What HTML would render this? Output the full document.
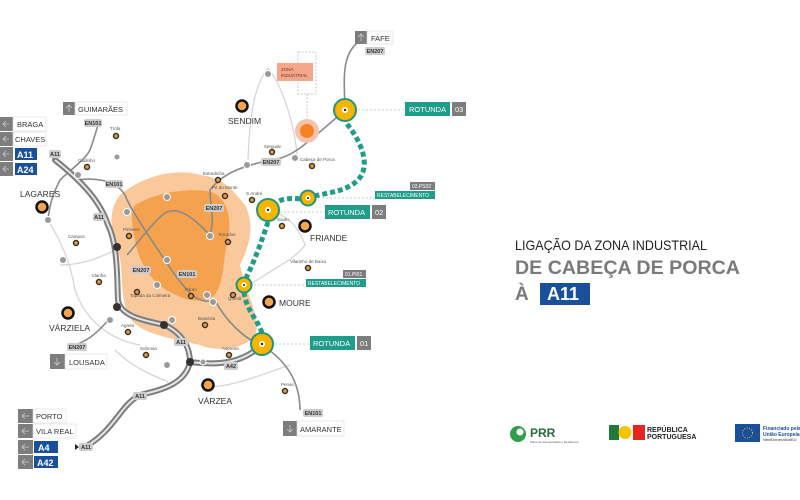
<!DOCTYPE html>
<html><head><meta charset="utf-8"><style>
html,body{margin:0;padding:0;background:#fff;}
svg{display:block}
text{font-family:"Liberation Sans",sans-serif}
</style></head><body>
<svg width="800" height="500" viewBox="0 0 800 500" xmlns="http://www.w3.org/2000/svg">
<rect width="800" height="500" fill="#fff"/>
<!-- blobs -->
<path d="M120,195 C150,170 185,170 200,175 C225,178 232,190 245,205 C255,225 250,245 240,265 C245,290 262,320 255,335 C245,350 215,352 200,345 C180,340 140,335 130,318 C118,295 125,275 118,250 C110,230 108,210 120,195Z" fill="#f9c89b"/>
<path d="M135,205 C160,190 195,188 212,192 C228,200 232,218 228,240 C222,262 225,280 215,295 C200,305 185,300 170,292 C150,282 138,260 135,240 C132,225 130,212 135,205Z" fill="#f5a24f"/>
<!-- light roads -->
<g fill="none" stroke="#d6d6d6" stroke-width="1.3">
<path d="M48,220 C60,240 70,260 75,290 C85,320 110,340 140,345"/>
<path d="M60,265 C85,265 105,255 115,250"/>
<path d="M268,68 C255,85 250,110 248,160"/>
<path d="M268,68 C285,90 295,130 297,155"/>
<path d="M268,210 C290,215 300,230 305,245 C295,260 270,270 250,285"/>
<path d="M115,350 C135,370 160,378 168,382"/>
<path d="M200,385 C220,392 260,375 290,365"/>
</g>
<!-- grey roads -->
<g fill="none" stroke="#8a8a8a" stroke-width="1.6">
<path d="M98,125 C95,135 92,145 90,150 C85,160 70,170 60,180 C55,190 50,200 48,220"/>
<path d="M78,180 C90,178 115,178 125,195 C130,210 165,260 175,275 C190,295 200,305 215,300 C225,320 245,340 262,345"/>
<path d="M127,255 C140,240 155,220 165,213 C180,205 195,220 210,235 C215,220 210,205 210,190 C225,170 250,165 270,160 C290,158 300,150 345,110"/>
<path d="M345,110 C345,90 340,60 355,45 C360,40 368,40 372,38"/>
<path d="M262,345 C285,360 300,380 300,410"/>
<path d="M75,345 C90,340 100,330 110,318"/>
</g>
<!-- motorways -->
<g fill="none" stroke="#7d7d7d" stroke-width="6" stroke-linecap="round">
<path d="M55,160 C80,180 100,200 108,225 C118,245 117,280 118,300 C120,315 140,320 165,325 C185,335 190,350 190,362 C185,385 160,390 140,395 C120,405 115,430 85,447"/>
<path d="M190,362 C215,365 240,365 262,345"/>
</g>
<g fill="none" stroke="#e5e5e5" stroke-width="2">
<path d="M55,160 C80,180 100,200 108,225 C118,245 117,280 118,300 C120,315 140,320 165,325 C185,335 190,350 190,362 C185,385 160,390 140,395 C120,405 115,430 85,447"/>
<path d="M190,362 C215,365 240,365 262,345"/>
</g>
<!-- nodes -->
<g fill="#9a9a9a" stroke="#fff" stroke-width="1">
<circle cx="78" cy="175" r="3.5"/><circle cx="48" cy="220" r="3.5"/><circle cx="63" cy="260" r="3.5"/><circle cx="127" cy="212" r="3.5"/><circle cx="167" cy="197" r="3.5"/><circle cx="210" cy="236" r="3.5"/><circle cx="167" cy="260" r="3.5"/><circle cx="157" cy="285" r="3.5"/><circle cx="207" cy="295" r="3.5"/><circle cx="213" cy="302" r="3.5"/><circle cx="172" cy="320" r="3.5"/><circle cx="110" cy="320" r="3.5"/><circle cx="167" cy="365" r="3.5"/><circle cx="268" cy="74" r="3.5"/><circle cx="247" cy="165" r="3.5"/><circle cx="295" cy="158" r="3.5"/><circle cx="117" cy="157" r="3"/><circle cx="203" cy="362" r="3"/>
</g>
<g fill="#333"><circle cx="117" cy="247" r="4"/><circle cx="117" cy="307" r="4"/><circle cx="164" cy="325" r="4"/><circle cx="190" cy="362" r="4"/></g>
<!-- small villages -->
<g fill="#f39b2e" stroke="#333" stroke-width="1.5">
<circle cx="116" cy="136" r="2.5"/><circle cx="87" cy="167" r="2.5"/><circle cx="218" cy="180" r="2.5"/><circle cx="272" cy="152" r="2.5"/><circle cx="312" cy="166" r="2.5"/><circle cx="225" cy="196" r="2.5"/><circle cx="252" cy="200" r="2.5"/><circle cx="129" cy="236" r="2.5"/><circle cx="76" cy="243" r="2.5"/><circle cx="228" cy="242" r="2.5"/><circle cx="282" cy="226" r="2.5"/><circle cx="99" cy="282" r="2.5"/><circle cx="137" cy="292" r="2.5"/><circle cx="191" cy="296" r="2.5"/><circle cx="233" cy="295" r="2.5"/><circle cx="308" cy="268" r="2.5"/><circle cx="205" cy="325" r="2.5"/><circle cx="128" cy="332" r="2.5"/><circle cx="146" cy="355" r="2.5"/><circle cx="229" cy="355" r="2.5"/><circle cx="285" cy="391" r="2.5"/>
</g>
<g font-size="4.5" fill="#555">
<text x="110" y="130">Trofa</text><text x="78" y="162">Godinho</text><text x="203" y="175">Estradinha</text><text x="264" y="148">Sergude</text><text x="300" y="161">Cabeça de Porca</text><text x="212" y="189">Pé do Monte</text><text x="246" y="195">S.André</text><text x="123" y="231">Pinheiro</text><text x="68" y="238">Campos</text><text x="218" y="236">Torrados</text><text x="277" y="221">Souto</text><text x="290" y="263">Vilarinho de Baixo</text><text x="92" y="277">Idanha</text><text x="130" y="297">Tapada da Colmeira</text><text x="185" y="291">Forno</text><text x="228" y="300">Quintã</text><text x="198" y="320">Boavista</text><text x="121" y="327">Agrela</text><text x="140" y="350">Sobrosa</text><text x="222" y="350">Aspreira</text><text x="281" y="386">Penas</text>
</g>
<!-- road labels -->
<g font-size="5.5" font-weight="bold" fill="#333" text-anchor="middle">
<rect x="84" y="119" width="18" height="8" rx="2" fill="#ccc"/><text x="93" y="125">EN101</text>
<rect x="105" y="180" width="18" height="8" rx="2" fill="#ccc"/><text x="114" y="186">EN101</text>
<rect x="49" y="150" width="12" height="8" rx="2" fill="#ccc"/><text x="55" y="156">A11</text>
<rect x="93" y="213" width="12" height="8" rx="2" fill="#ccc"/><text x="99" y="219">A11</text>
<rect x="204" y="204" width="20" height="8" rx="2" fill="#ccc"/><text x="214" y="210">EN207</text>
<rect x="261" y="158" width="20" height="8" rx="2" fill="#ccc"/><text x="271" y="164">EN207</text>
<rect x="131" y="266" width="20" height="8" rx="2" fill="#ccc"/><text x="141" y="272">EN207</text>
<rect x="177" y="270" width="20" height="8" rx="2" fill="#ccc"/><text x="187" y="276">EN101</text>
<rect x="174" y="338" width="14" height="8" rx="2" fill="#ccc"/><text x="181" y="344">A11</text>
<rect x="224" y="362" width="14" height="8" rx="2" fill="#ccc"/><text x="231" y="368">A42</text>
<rect x="67" y="343" width="20" height="8" rx="2" fill="#ccc"/><text x="77" y="349">EN207</text>
<rect x="133" y="392" width="14" height="8" rx="2" fill="#ccc"/><text x="140" y="398">A11</text>
<rect x="79" y="443" width="14" height="8" rx="2" fill="#ccc"/><text x="86" y="449">A11</text>
<rect x="303" y="409" width="20" height="8" rx="2" fill="#ccc"/><text x="313" y="415">EN101</text>
<rect x="365" y="47" width="20" height="8" rx="2" fill="#ccc"/><text x="375" y="53">EN207</text>
</g>
<!-- zona industrial -->
<rect x="298" y="52" width="18" height="42" fill="none" stroke="#bbb" stroke-width="0.8" stroke-dasharray="2,1.5"/>
<line x1="307" y1="94" x2="307" y2="120" stroke="#bbb" stroke-width="0.8" stroke-dasharray="2,1.5"/>
<rect x="277" y="63" width="36" height="18" fill="#f4a58a"/>
<text x="281" y="71" font-size="4.5" fill="#6b3a2a">ZONA</text><text x="281" y="77" font-size="4.5" fill="#6b3a2a">INDUSTRIAL</text>
<circle cx="307" cy="131" r="12" fill="#f7c3b0"/><circle cx="307" cy="131" r="7" fill="#f58220"/>
<!-- green dashed -->
<g fill="none" stroke="#1f9c8a" stroke-width="5" stroke-dasharray="5,3">
<path d="M347,124 C360,140 372,165 358,180 C345,192 330,192 315,196"/>
<path d="M300,199 C292,198 282,198 276,203"/>
<path d="M268,222 C262,240 255,260 246,278"/>
<path d="M244,292 C246,310 258,320 262,333"/>
</g>
<!-- dotted connectors -->
<g stroke="#bbb" stroke-width="0.8" stroke-dasharray="2,2">
<line x1="358" y1="110" x2="405" y2="110"/><line x1="318" y1="198" x2="375" y2="198"/><line x1="280" y1="212" x2="325" y2="212"/><line x1="254" y1="285" x2="306" y2="285"/><line x1="275" y1="344" x2="310" y2="344"/>
</g>
<!-- roundabouts -->
<g stroke="#23967a" stroke-width="2" fill="#f7b500">
<circle cx="345" cy="110" r="11"/><circle cx="308" cy="198" r="7.5"/><circle cx="268" cy="210" r="11"/><circle cx="244" cy="285" r="7.5"/><circle cx="262" cy="344" r="11"/>
</g>
<g fill="#fff"><circle cx="345" cy="110" r="3"/><circle cx="308" cy="198" r="2.5"/><circle cx="268" cy="210" r="3"/><circle cx="244" cy="285" r="2.5"/><circle cx="262" cy="344" r="3"/></g>
<g fill="#222"><circle cx="345" cy="110" r="1.2"/><circle cx="308" cy="198" r="1"/><circle cx="268" cy="210" r="1.2"/><circle cx="244" cy="285" r="1"/><circle cx="262" cy="344" r="1.2"/></g>
<!-- rotunda labels -->
<g font-size="7.5" fill="#fff">
<rect x="405" y="102" width="45" height="14" fill="#1f9c8a"/><text x="409" y="112">ROTUNDA</text>
<rect x="452" y="102" width="14" height="14" fill="#7d7d7d"/><text x="455" y="112">03</text>
<rect x="325" y="205" width="45" height="14" fill="#1f9c8a"/><text x="328" y="215">ROTUNDA</text>
<rect x="372" y="205" width="14" height="14" fill="#7d7d7d"/><text x="375" y="215">02</text>
<rect x="310" y="336" width="45" height="14" fill="#1f9c8a"/><text x="313" y="346">ROTUNDA</text>
<rect x="357" y="336" width="14" height="14" fill="#7d7d7d"/><text x="360" y="346">01</text>
</g>
<g font-size="5" fill="#fff">
<rect x="375" y="191" width="60" height="8" fill="#1f9c8a"/><text x="377" y="197">RESTABELECIMENTO</text>
<rect x="410" y="182" width="25" height="8" fill="#7d7d7d"/><text x="412" y="188">02.PS02</text>
<rect x="306" y="279" width="60" height="8" fill="#1f9c8a"/><text x="308" y="285">RESTABELECIMENTO</text>
<rect x="343" y="270" width="23" height="8" fill="#7d7d7d"/><text x="345" y="276">01.PI01</text>
</g>
<!-- towns -->
<g fill="#f7a54a" stroke="#111" stroke-width="2.5">
<circle cx="242" cy="106" r="5.5"/><circle cx="42" cy="207" r="5.5"/><circle cx="305" cy="226" r="5.5"/><circle cx="269" cy="302" r="5.5"/><circle cx="68" cy="313" r="5.5"/><circle cx="208" cy="385" r="5.5"/>
</g>
<g font-size="8.5" fill="#333">
<text x="228" y="124">SENDIM</text><text x="20" y="197">LAGARES</text><text x="310" y="241">FRIANDE</text><text x="279" y="306">MOURE</text><text x="49" y="331">VÁRZIELA</text><text x="198" y="404">VÁRZEA</text>
</g>
<!-- signs -->
<g font-size="7.5" fill="#333">
<rect x="63" y="102" width="12" height="13" fill="#7d7d7d"/><rect x="75" y="102" width="52" height="13" fill="#fff" stroke="#ddd" stroke-width="0.6"/><text x="78" y="112">GUIMARÃES</text>
<rect x="355" y="31" width="12" height="13" fill="#7d7d7d"/><rect x="367" y="31" width="26" height="13" fill="#fff" stroke="#ddd" stroke-width="0.6"/><text x="371" y="41">FAFE</text>
<rect x="0" y="117" width="13" height="14" fill="#7d7d7d"/><rect x="13" y="117" width="33" height="14" fill="#fff" stroke="#ddd" stroke-width="0.6"/><text x="17" y="127">BRAGA</text>
<rect x="0" y="132" width="13" height="14" fill="#7d7d7d"/><rect x="13" y="132" width="33" height="14" fill="#fff" stroke="#ddd" stroke-width="0.6"/><text x="15" y="142">CHAVES</text>
<rect x="0" y="147" width="13" height="14" fill="#7d7d7d"/><rect x="15" y="148" width="22" height="12" fill="#1a4f9c"/><text x="17" y="158" fill="#fff" font-weight="bold" font-size="9">A11</text>
<rect x="0" y="162" width="13" height="14" fill="#7d7d7d"/><rect x="15" y="163" width="22" height="12" fill="#1a4f9c"/><text x="17" y="173" fill="#fff" font-weight="bold" font-size="9">A24</text>
<rect x="50" y="354" width="15" height="15" fill="#7d7d7d"/><rect x="65" y="354" width="42" height="15" fill="#fff" stroke="#ddd" stroke-width="0.6"/><text x="69" y="365">LOUSADA</text>
<rect x="283" y="421" width="14" height="15" fill="#7d7d7d"/><rect x="297" y="421" width="47" height="15" fill="#fff" stroke="#ddd" stroke-width="0.6"/><text x="300" y="432">AMARANTE</text>
<rect x="18" y="409" width="15" height="14" fill="#7d7d7d"/><rect x="33" y="409" width="33" height="14" fill="#fff" stroke="#ddd" stroke-width="0.6"/><text x="36" y="419">PORTO</text>
<rect x="18" y="424" width="15" height="14" fill="#7d7d7d"/><rect x="33" y="424" width="43" height="14" fill="#fff" stroke="#ddd" stroke-width="0.6"/><text x="36" y="434">VILA REAL</text>
<rect x="18" y="440" width="15" height="14" fill="#7d7d7d"/><rect x="34" y="441" width="24" height="12" fill="#1a4f9c"/><text x="38" y="451" fill="#fff" font-weight="bold" font-size="9">A4</text>
<rect x="18" y="455" width="15" height="14" fill="#7d7d7d"/><rect x="34" y="456" width="24" height="12" fill="#1a4f9c"/><text x="37" y="466" fill="#fff" font-weight="bold" font-size="9">A42</text>
</g>
<g fill="none" stroke="#ccc" stroke-width="0.8">
<path d="M9,124 H3 M6,121 L3,124 L6,127"/><path d="M9,139 H3 M6,136 L3,139 L6,142"/><path d="M9,154 H3 M6,151 L3,154 L6,157"/><path d="M9,169 H3 M6,166 L3,169 L6,172"/>
<path d="M29,416 H22 M25,413 L22,416 L25,419"/><path d="M29,431 H22 M25,428 L22,431 L25,434"/><path d="M29,447 H22 M25,444 L22,447 L25,450"/><path d="M29,462 H22 M25,459 L22,462 L25,465"/>
<path d="M69,105 V112 M66,108 L69,105 L72,108"/><path d="M361,34 V41 M358,37 L361,34 L364,37"/>
<path d="M57,358 V365 M54,362 L57,365 L60,362"/><path d="M290,425 V432 M287,429 L290,432 L293,429"/>
</g>
<path d="M79,447 L75,444 L75,450Z" fill="#222"/>
<!-- title -->
<text x="515" y="250" font-size="14" fill="#222" textLength="192" lengthAdjust="spacingAndGlyphs">LIGAÇÃO DA ZONA INDUSTRIAL</text>
<text x="515" y="274" font-size="19" font-weight="bold" fill="#7a7a7a" textLength="225" lengthAdjust="spacingAndGlyphs">DE CABEÇA DE PORCA</text>
<text x="515" y="300" font-size="19" font-weight="bold" fill="#7a7a7a">À</text>
<rect x="540" y="283" width="50" height="22" fill="#1a4f9c"/>
<text x="547" y="300" font-size="18" font-weight="bold" fill="#fff">A11</text>
<!-- logos -->
<circle cx="518" cy="434" r="8" fill="#2e9e4a"/><circle cx="520" cy="432" r="3.5" fill="#fff"/>
<text x="530" y="437" font-size="12" font-weight="bold" fill="#2a6e3a">PRR</text>
<text x="530" y="443" font-size="3" fill="#555">Plano de Recuperação e Resiliência</text>
<rect x="609" y="425" width="10" height="15" fill="#1f7a3a"/><circle cx="625" cy="432.5" r="6.5" fill="#f5c400"/><rect x="633" y="425" width="12" height="15" fill="#e52520"/>
<text x="647" y="432" font-size="7" font-weight="bold" font-family="Liberation Serif" fill="#222">REPÚBLICA</text>
<text x="647" y="439" font-size="7" font-weight="bold" font-family="Liberation Serif" fill="#222">PORTUGUESA</text>
<rect x="735" y="424" width="25" height="18" fill="#1a4f9c"/><circle cx="747.5" cy="433" r="5" fill="none" stroke="#f5c400" stroke-width="1" stroke-dasharray="1,1.5"/>
<text x="763" y="430" font-size="5" font-weight="bold" fill="#1a4f9c">Financiado pela</text>
<text x="763" y="436" font-size="5" font-weight="bold" fill="#1a4f9c">União Europeia</text>
<text x="763" y="441" font-size="4" fill="#333">NextGenerationEU</text>
</svg>
</body></html>
